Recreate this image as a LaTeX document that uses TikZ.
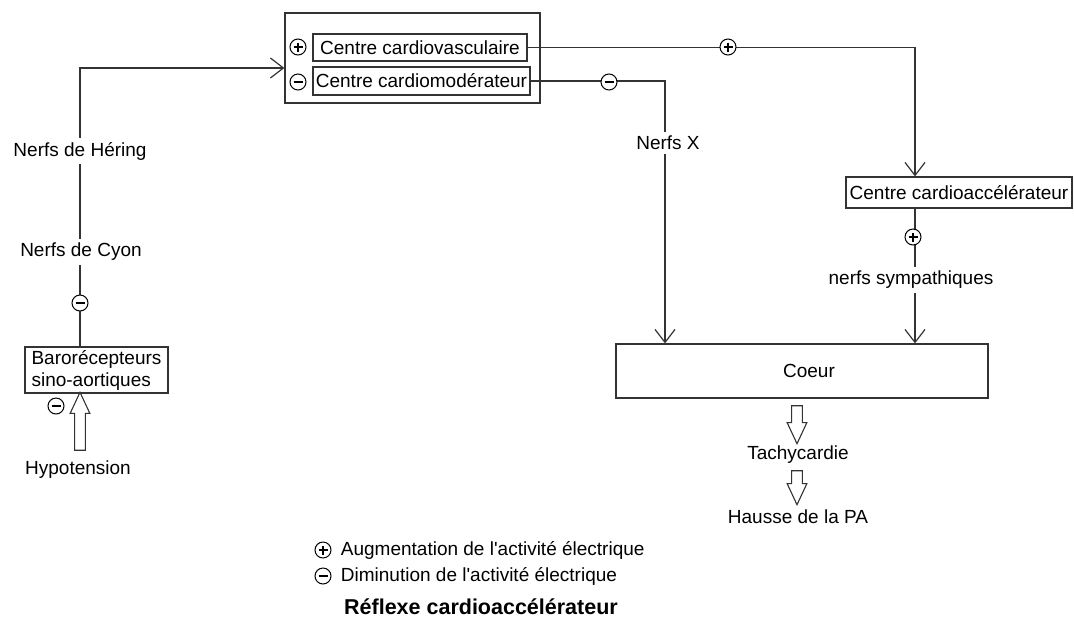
\documentclass[tikz,border=0pt]{standalone}
\usepackage{fontspec}
\setmainfont{Liberation Sans}
\usetikzlibrary{positioning, shapes.arrows, arrows.meta, calc}

\begin{document}
\begin{tikzpicture}[
    x=1pt, y=-1pt,
    line width=1.2pt,
    draw=black!80,
    font=\fontsize{19}{22}\selectfont,
    fleche/.style={
        -{Straight Barb[length=13pt,width=20pt]},
        draw=black!80
    },
    boite/.style={
        rectangle,
        draw=black!80,
        fill=white,
        inner sep=2pt
    },
    etiquette/.style={
        fill=white,
        inner xsep=1pt,
        inner ysep=4pt
    },
    signe/.style={
        circle,
        draw=black,
        fill=white,
        line width=1pt,
        inner sep=0pt,
        minimum size=16pt
    },
    signemoins/.style={
        signe,
        path picture={
            \draw[line width=2.2pt] ([xshift=-4.5pt]path picture bounding box.center)
                -- ([xshift=4.5pt]path picture bounding box.center);
        }
    },
    signeplus/.style={
        signe,
        path picture={
            \draw[line width=2.2pt] ([xshift=-4.5pt]path picture bounding box.center)
                -- ([xshift=4.5pt]path picture bounding box.center);
            \draw[line width=2.2pt] ([yshift=-4.5pt]path picture bounding box.center)
                -- ([yshift=4.5pt]path picture bounding box.center);
        }
    },
    grosse/.style={
        single arrow,
        draw=black!80,
        fill=white,
        line width=1.1pt,
        inner sep=4.8pt,
        minimum width=19pt,
        single arrow head extend=4.5pt,
        single arrow tip angle=50
    }
]
    \useasboundingbox (0,0) rectangle (1074,622);

    % Centres nerveux
    \node[boite, minimum width=255pt, minimum height=90pt] (centre) at (412.5,58) {};
    \node[boite, minimum width=214pt, minimum height=27pt] (cv) at (420,47.5) {Centre cardiovasculaire};
    \node[boite, minimum width=217pt, minimum height=28pt] (cm) at (421.5,81) {Centre cardiomodérateur};
    \node[signeplus] (pcv) at (298,47) {};
    \node[signemoins] (mcm) at (298,82) {};

    % Centre cardioaccelerateur et coeur
    \node[boite, minimum width=226pt, minimum height=31pt] (cacc) at (959,192.5) {Centre cardioaccélérateur};
    \node[boite, minimum width=372pt, minimum height=54pt] (coeur) at (802,371) {\hspace{14pt}Coeur};

    % Barorecepteurs
    \node[boite, minimum width=143pt, minimum height=46pt, align=left] (baro) at (96.5,370) {Barorécepteurs\\sino-aortiques};
    \node (hypo) at (78,470) {Hypotension};
    \coordinate (coin) at (80,68);

    % Voie afferente
    \draw[fleche] (baro.north -| coin) -- (coin) -- (centre.west |- coin);
    \node[etiquette] (hering) at (80,151) {Nerfs de Héring};
    \node[etiquette] (cyon) at (81,252) {Nerfs de Cyon};
    \node[signemoins] (mcyon) at (80,303) {};

    % Voies efferentes
    \draw[fleche] (cv.east) -| ([xshift=-44pt]cacc.north);
    \node[signeplus] (pacc) at (728,47) {};
    \draw[fleche] (cm.east) -| ([xshift=-137pt]coeur.north);
    \node[signemoins] (mx) at (609,82) {};
    \node[etiquette] (nx) at (668,143) {Nerfs X};
    \draw[fleche] ([xshift=-44pt]cacc.south) -- ([xshift=-44pt]cacc.south |- coeur.north);
    \node[signeplus] (psymp) at (913,237) {};
    \node[etiquette] (symp) at (911,280) {nerfs sympathiques};

    % Consequences
    \node (tachy) at (798,455) {Tachycardie};
    \node (hausse) at (798,517) {Hausse de la PA};
    \node[grosse, shape border rotate=90, minimum height=58pt] (fhypo) at (80,427) {};
    \node[grosse, shape border rotate=270, minimum height=38pt] (ftachy) at (797,419) {};
    \node[grosse, shape border rotate=270, minimum height=34pt] (fhausse) at (797,482) {};
    \node[signemoins] (mhypo) at (56,406) {};

    % Legende
    \node[signeplus] (lplus) at (323,550) {};
    \node[anchor=west] (tplus) at (337,550) {Augmentation de l\textquotesingle activité électrique};
    \node[signemoins] (lmoins) at (323,576) {};
    \node[anchor=west] (tmoins) at (337,576) {Diminution de l\textquotesingle activité électrique};
    \node[font=\fontsize{21.5}{24}\selectfont\bfseries] (titre) at (481,607) {Réflexe cardioaccélérateur};
\end{tikzpicture}
\end{document}
